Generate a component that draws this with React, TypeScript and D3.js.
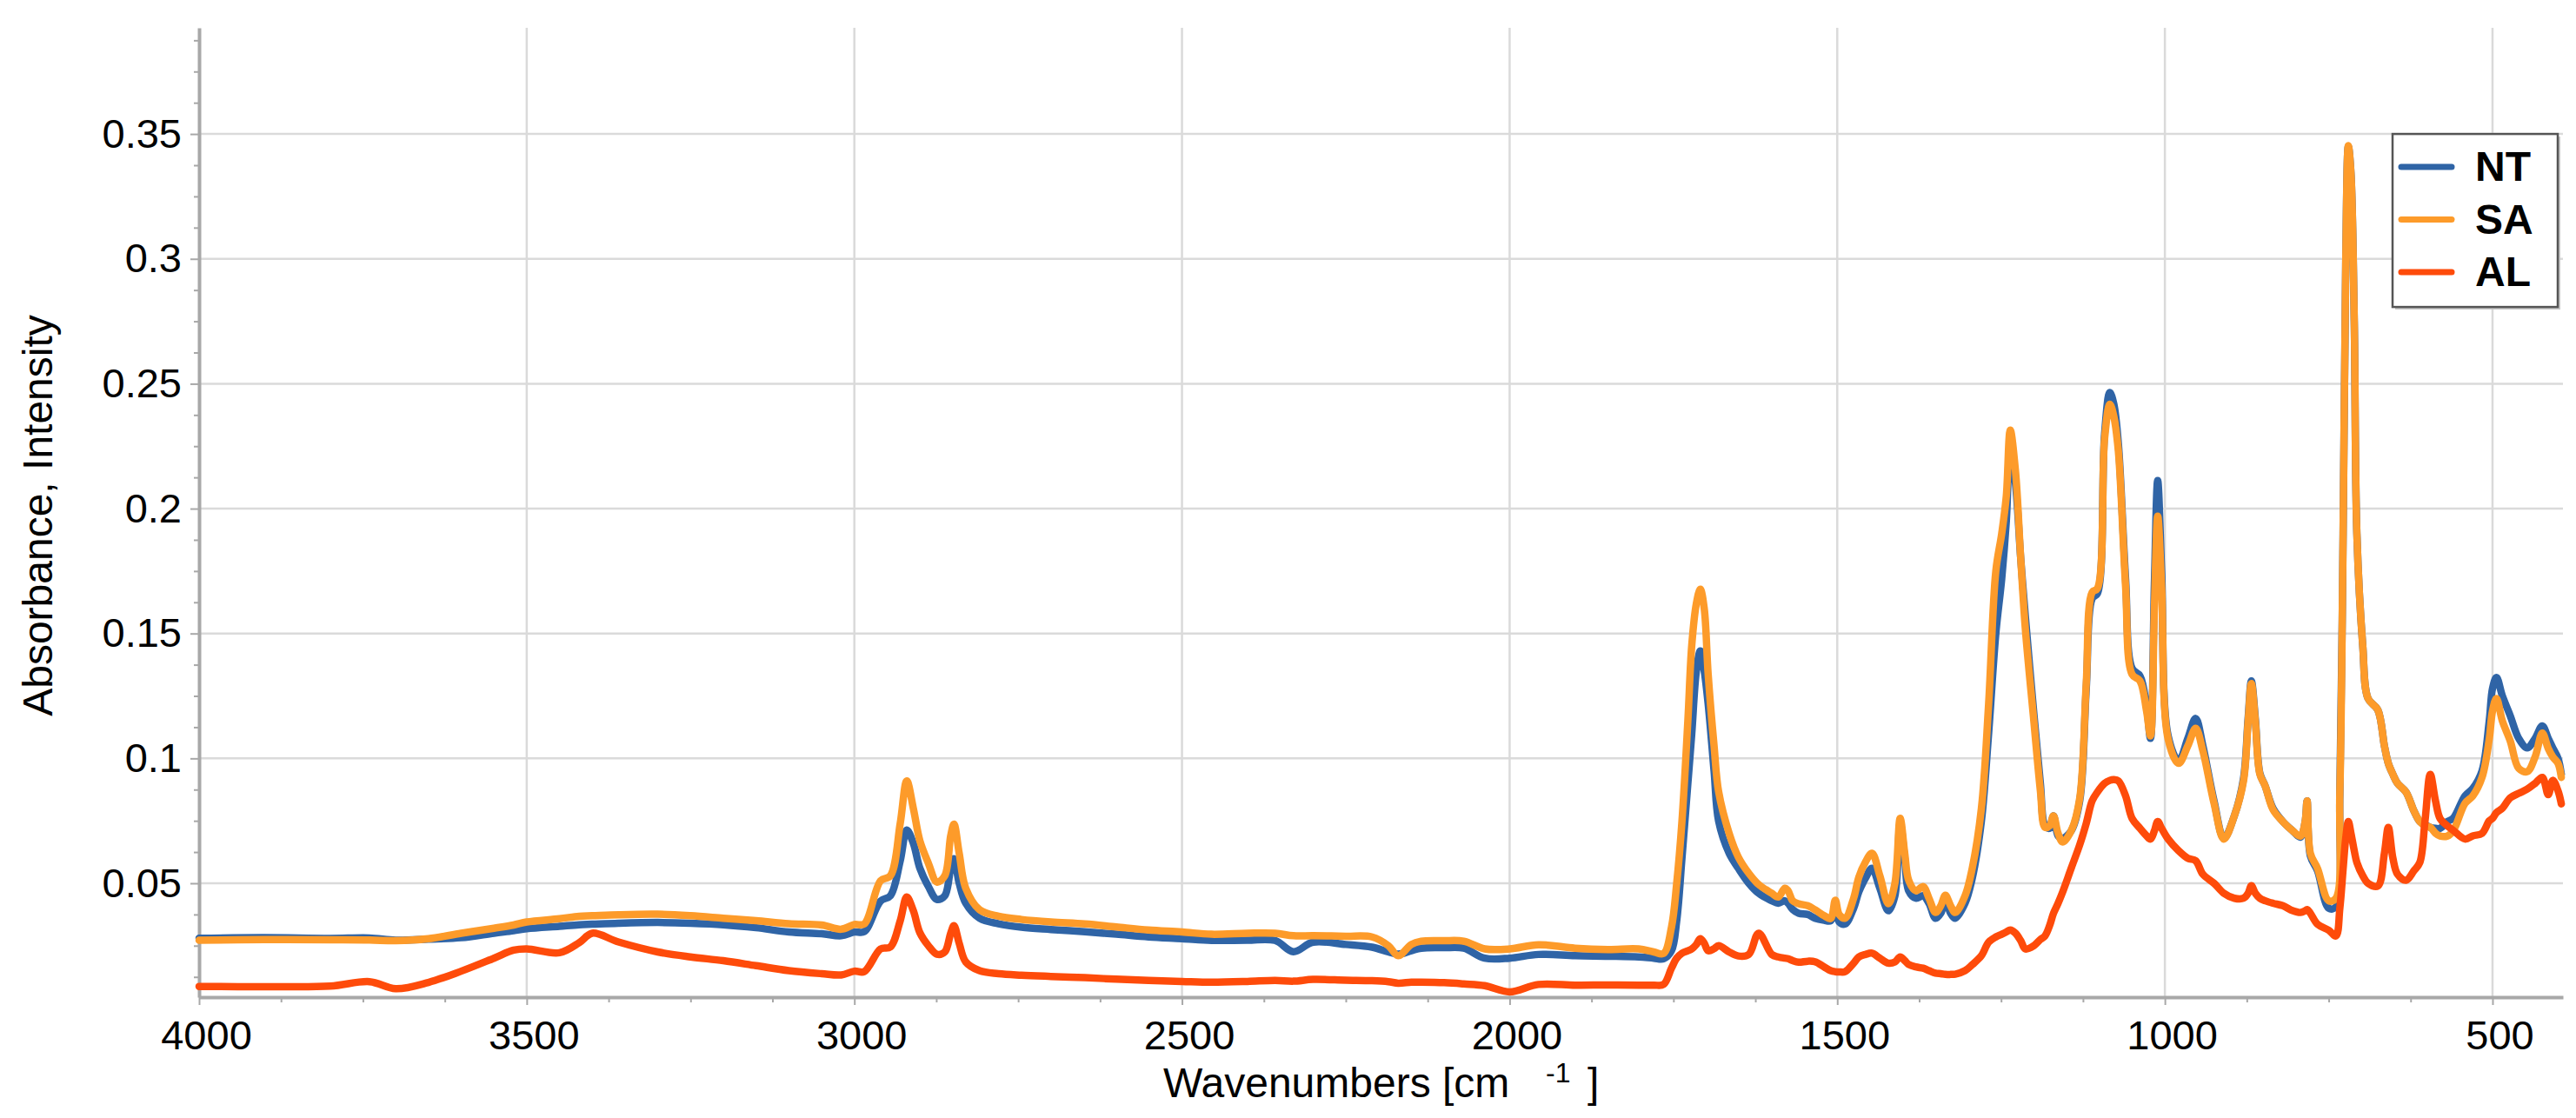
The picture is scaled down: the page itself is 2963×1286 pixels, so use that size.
import React, { useRef, useEffect } from 'react';
import * as d3 from 'd3';

const wavenumbers = [
  // 4000 - 3000
  4000, 3900, 3800, 3740, 3700, 3650, 3600, 3550, 3520, 3500, 3450, 3420, 3400, 3360, 3300, 3250, 3200, 3150, 3100, 3050, 3020, 3000,
  // 2985 - 2000
  2985, 2960, 2945, 2930, 2920, 2910, 2900, 2887, 2874, 2862, 2853, 2848, 2840, 2830, 2809, 2780, 2745, 2700, 2648, 2600, 2551, 2500,
  2455, 2400, 2358, 2330, 2300, 2250, 2210, 2185, 2170, 2150, 2135, 2100, 2070, 2038, 2000,
  // 1956 - 1213
  1956, 1900, 1850, 1803, 1780, 1765, 1753, 1745, 1737, 1728, 1722, 1715, 1709, 1703, 1697, 1688, 1681, 1665, 1651, 1635,
  1620, 1600, 1590, 1580, 1575, 1568, 1559, 1545, 1534, 1520, 1510, 1503, 1497, 1488, 1475, 1467, 1457, 1447, 1435, 1422,
  1412, 1404, 1397, 1391, 1380, 1369, 1360, 1350, 1342, 1335, 1327, 1320, 1305, 1294, 1280, 1269, 1258, 1249, 1242, 1236,
  1228, 1220, 1213,
  // 1200 - 395
  1200, 1190, 1183, 1176, 1170, 1163, 1156, 1143, 1130, 1120, 1111, 1103, 1092, 1084, 1078, 1071, 1060, 1050, 1038, 1028,
  1022, 1016, 1011, 1005, 995, 979, 965, 953, 942, 925, 910, 894, 880, 873, 868, 862, 855, 847, 835, 820,
  805, 793, 786, 783, 778, 767, 750, 739, 733, 728, 724, 720, 716, 711, 707, 698, 690, 675, 665, 659,
  652, 645, 632, 620, 611, 603, 595, 587, 580, 569, 560, 542, 530, 516, 505, 500, 494, 485, 473, 460,
  447, 435, 424, 415, 408, 400, 395,
];

const ntValues = [
  0.0280, 0.0282, 0.0279, 0.0281, 0.0272, 0.0276, 0.0282, 0.0300, 0.0310, 0.0318, 0.0328, 0.0334, 0.0336, 0.0340, 0.0343, 0.0340, 0.0334, 0.0322, 0.0305, 0.0298, 0.0290, 0.0305,
  0.0306, 0.0429, 0.0450, 0.0590, 0.0713, 0.0660, 0.0560, 0.0487, 0.0435, 0.0450, 0.0560, 0.0598, 0.0500, 0.0420, 0.0360, 0.0338, 0.0324, 0.0315, 0.0306, 0.0296, 0.0285, 0.0278,
  0.0271, 0.0272, 0.0271, 0.0226, 0.0264, 0.0255, 0.0244, 0.0225, 0.0216, 0.0230, 0.0240, 0.0242, 0.0240, 0.0200, 0.0200,
  0.0215, 0.0210, 0.0208, 0.0205, 0.0200, 0.0198, 0.0230, 0.0350, 0.0600, 0.0900, 0.1100, 0.1350, 0.1430, 0.1350, 0.1218, 0.0950, 0.0748, 0.0620, 0.0560, 0.0500,
  0.0460, 0.0430, 0.0420, 0.0430, 0.0420, 0.0395, 0.0380, 0.0375, 0.0360, 0.0352, 0.0350, 0.0400, 0.0345, 0.0337, 0.0400, 0.0466, 0.0520, 0.0560, 0.0480, 0.0390,
  0.0450, 0.0740, 0.0600, 0.0470, 0.0440, 0.0450, 0.0420, 0.0360, 0.0380, 0.0430, 0.0380, 0.0360, 0.0420, 0.0520, 0.0750, 0.1100, 0.1500, 0.1720, 0.1950, 0.2240,
  0.2100, 0.1800, 0.1570,
  0.1180, 0.0900, 0.0730, 0.0720, 0.0770, 0.0690, 0.0680, 0.0710, 0.0830, 0.1280, 0.1640, 0.1660, 0.2300, 0.2465, 0.2420, 0.2260, 0.1720, 0.1360, 0.1330, 0.1210,
  0.1080, 0.1700, 0.2112, 0.1750, 0.1090, 0.0990, 0.1080, 0.1160, 0.1050, 0.0830, 0.0680, 0.0770, 0.0920, 0.1160, 0.1310, 0.1160, 0.0940, 0.0890, 0.0800, 0.0747,
  0.0710, 0.0685, 0.0745, 0.0830, 0.0610, 0.0550, 0.0400, 0.0405, 0.0860, 0.1900, 0.2980, 0.3450, 0.3340, 0.2750, 0.1900, 0.1450, 0.1240, 0.1194, 0.1050, 0.0980,
  0.0936, 0.0900, 0.0865, 0.0790, 0.0747, 0.0735, 0.0724, 0.0720, 0.0720, 0.0747, 0.0760, 0.0850, 0.0880, 0.0950, 0.1150, 0.1280, 0.1324, 0.1250, 0.1171, 0.1080,
  0.1042, 0.1080, 0.1130, 0.1080, 0.1042, 0.1000, 0.0936,
];

const saValues = [
  0.0272, 0.0275, 0.0274, 0.0273, 0.0270, 0.0278, 0.0300, 0.0320, 0.0333, 0.0345, 0.0358, 0.0368, 0.0370, 0.0374, 0.0376, 0.0370, 0.0360, 0.0350, 0.0338, 0.0333, 0.0316, 0.0335,
  0.0337, 0.0510, 0.0530, 0.0740, 0.0910, 0.0800, 0.0670, 0.0580, 0.0505, 0.0530, 0.0690, 0.0737, 0.0620, 0.0480, 0.0394, 0.0368, 0.0355, 0.0345, 0.0337, 0.0325, 0.0313, 0.0305,
  0.0296, 0.0300, 0.0300, 0.0290, 0.0290, 0.0288, 0.0285, 0.0250, 0.0210, 0.0255, 0.0268, 0.0270, 0.0268, 0.0237, 0.0237,
  0.0254, 0.0240, 0.0235, 0.0237, 0.0225, 0.0219, 0.0324, 0.0500, 0.0748, 0.1150, 0.1454, 0.1620, 0.1677, 0.1600, 0.1336, 0.1050, 0.0866, 0.0700, 0.0605, 0.0540,
  0.0495, 0.0460, 0.0445, 0.0480, 0.0470, 0.0430, 0.0418, 0.0410, 0.0394, 0.0370, 0.0359, 0.0432, 0.0375, 0.0360, 0.0440, 0.0525, 0.0585, 0.0620, 0.0530, 0.0418,
  0.0500, 0.0760, 0.0620, 0.0512, 0.0470, 0.0487, 0.0440, 0.0383, 0.0410, 0.0452, 0.0410, 0.0383, 0.0450, 0.0560, 0.0800, 0.1218, 0.1750, 0.1900, 0.2050, 0.2314,
  0.2150, 0.1800, 0.1520,
  0.1150, 0.0870, 0.0724, 0.0730, 0.0770, 0.0700, 0.0665, 0.0710, 0.0840, 0.1300, 0.1665, 0.1680, 0.2280, 0.2418, 0.2370, 0.2230, 0.1690, 0.1336, 0.1310, 0.1190,
  0.1090, 0.1600, 0.1970, 0.1690, 0.1077, 0.0980, 0.1050, 0.1120, 0.1030, 0.0820, 0.0677, 0.0770, 0.0910, 0.1147, 0.1300, 0.1150, 0.0936, 0.0890, 0.0795, 0.0747,
  0.0710, 0.0689, 0.0747, 0.0830, 0.0620, 0.0559, 0.0430, 0.0440, 0.0865, 0.1900, 0.2980, 0.3453, 0.3340, 0.2750, 0.1900, 0.1450, 0.1240, 0.1194, 0.1050, 0.0980,
  0.0936, 0.0900, 0.0865, 0.0790, 0.0747, 0.0730, 0.0724, 0.0700, 0.0689, 0.0689, 0.0710, 0.0820, 0.0850, 0.0924, 0.1077, 0.1190, 0.1240, 0.1150, 0.1070, 0.0960,
  0.0947, 0.1006, 0.1101, 0.1040, 0.1006, 0.0980, 0.0924,
];

const alValues = [
  0.0087, 0.0086, 0.0088, 0.0106, 0.0078, 0.0103, 0.0148, 0.0200, 0.0232, 0.0237, 0.0222, 0.0262, 0.0300, 0.0265, 0.0225, 0.0205, 0.0190, 0.0170, 0.0150, 0.0138, 0.0133, 0.0148,
  0.0146, 0.0237, 0.0245, 0.0350, 0.0445, 0.0390, 0.0302, 0.0250, 0.0216, 0.0225, 0.0300, 0.0330, 0.0260, 0.0185, 0.0150, 0.0138, 0.0132, 0.0127, 0.0122, 0.0116, 0.0111, 0.0107,
  0.0104, 0.0107, 0.0111, 0.0108, 0.0115, 0.0112, 0.0110, 0.0106, 0.0100, 0.0104, 0.0104, 0.0102, 0.0097, 0.0090, 0.0065,
  0.0095, 0.0092, 0.0093, 0.0092, 0.0092, 0.0095, 0.0160, 0.0200, 0.0220, 0.0230, 0.0237, 0.0255, 0.0278, 0.0260, 0.0230, 0.0238, 0.0250, 0.0225, 0.0209, 0.0215,
  0.0300, 0.0215, 0.0205, 0.0200, 0.0198, 0.0190, 0.0184, 0.0188, 0.0186, 0.0165, 0.0150, 0.0146, 0.0145, 0.0146, 0.0180, 0.0205, 0.0215, 0.0220, 0.0200, 0.0180,
  0.0185, 0.0205, 0.0190, 0.0175, 0.0165, 0.0160, 0.0150, 0.0140, 0.0138, 0.0135, 0.0135, 0.0136, 0.0150, 0.0174, 0.0210, 0.0264, 0.0285, 0.0296, 0.0305, 0.0313,
  0.0300, 0.0270, 0.0237,
  0.0250, 0.0275, 0.0289, 0.0330, 0.0380, 0.0420, 0.0465, 0.0560, 0.0654, 0.0740, 0.0830, 0.0865, 0.0900, 0.0912, 0.0915, 0.0910, 0.0850, 0.0759, 0.0720, 0.0690,
  0.0677, 0.0710, 0.0747, 0.0720, 0.0677, 0.0630, 0.0600, 0.0590, 0.0536, 0.0500, 0.0460, 0.0440, 0.0440, 0.0460, 0.0490, 0.0460, 0.0440, 0.0430, 0.0420, 0.0410,
  0.0390, 0.0383, 0.0390, 0.0395, 0.0380, 0.0336, 0.0312, 0.0289, 0.0400, 0.0558, 0.0680, 0.0747, 0.0700, 0.0630, 0.0583, 0.0530, 0.0500, 0.0489, 0.0620, 0.0724,
  0.0600, 0.0536, 0.0512, 0.0550, 0.0583, 0.0750, 0.0936, 0.0830, 0.0759, 0.0730, 0.0712, 0.0677, 0.0690, 0.0700, 0.0750, 0.0760, 0.0783, 0.0800, 0.0842, 0.0860,
  0.0877, 0.0900, 0.0924, 0.0855, 0.0912, 0.0870, 0.0818,
];

const seriesNames = ['NT', 'SA', 'AL'];
const seriesColors = ['#2f64a6', '#fd9b2a', '#fe4b0a'];

const xTicks = [4000, 3500, 3000, 2500, 2000, 1500, 1000, 500];
const yTicks = [0.05, 0.1, 0.15, 0.2, 0.25, 0.3, 0.35];
const yTickLabels = ['0.05', '0.1', '0.15', '0.2', '0.25', '0.3', '0.35'];

const WIDTH = 2963;
const HEIGHT = 1286;
const FONT = '"Liberation Sans", Arial, Helvetica, sans-serif';

const App: React.FC = () => {
  const ref = useRef<SVGSVGElement | null>(null);

  useEffect(() => {
    if (!ref.current) return;
    const svg = d3.select(ref.current);
    svg.selectAll('*').remove();

    const margin = { top: 32, right: 15, bottom: 139, left: 229 };
    const x = d3.scaleLinear().domain([4000, 392.5]).range([margin.left, WIDTH - margin.right]);
    const y = d3.scaleLinear().domain([0.0044, 0.3925]).range([HEIGHT - margin.bottom, margin.top]);
    const [x0, x1] = x.range();
    const [yBottom, yTop] = y.range();

    svg.append('rect').attr('width', WIDTH).attr('height', HEIGHT).attr('fill', '#fff');

    // grid
    const grid = svg.append('g').attr('stroke', '#dadada').attr('stroke-width', 2.5);
    grid.selectAll('line.h').data(yTicks).join('line')
      .attr('x1', x0).attr('x2', x1)
      .attr('y1', d => y(d)).attr('y2', d => y(d));
    grid.selectAll('line.v').data(xTicks.slice(1)).join('line')
      .attr('y1', yTop).attr('y2', yBottom)
      .attr('x1', d => x(d)).attr('x2', d => x(d));

    const axisColor = '#a8a8a8';

    // minor ticks
    const xMinor = d3.range(4000, 392, -125).filter(v => v % 500 !== 0);
    const yMinor = d3.range(0.0125, 0.3925, 0.0125).filter(v => Math.abs(v / 0.05 - Math.round(v / 0.05)) > 1e-6);

    const xMinorAxis = svg.append('g').attr('transform', `translate(0,${yBottom})`)
      .call(d3.axisBottom(x).tickValues(xMinor).tickSize(6).tickSizeOuter(0).tickFormat(() => ''));
    const yMinorAxis = svg.append('g').attr('transform', `translate(${x0},0)`)
      .call(d3.axisLeft(y).tickValues(yMinor).tickSize(6).tickSizeOuter(0).tickFormat(() => ''));
    [xMinorAxis, yMinorAxis].forEach(a => {
      a.select('.domain').remove();
      a.selectAll('line').attr('stroke', axisColor).attr('stroke-width', 2);
    });

    // major axes
    const xAxis = svg.append('g').attr('transform', `translate(0,${yBottom})`)
      .call(d3.axisBottom(x).tickValues(xTicks).tickSize(9).tickSizeOuter(0).tickPadding(18).tickFormat(d => String(d)));
    const yAxis = svg.append('g').attr('transform', `translate(${x0},0)`)
      .call(d3.axisLeft(y).tickValues(yTicks).tickSize(10).tickSizeOuter(0).tickPadding(10)
        .tickFormat((_d, i) => yTickLabels[i]));

    [xAxis, yAxis].forEach(a => {
      a.select('.domain').attr('stroke', axisColor).attr('stroke-width', 4);
      a.selectAll('line').attr('stroke', axisColor).attr('stroke-width', 2);
      a.selectAll('text').attr('font-family', FONT).attr('font-size', 47).attr('fill', '#000');
    });
    xAxis.selectAll('text').attr('dx', 8);

    // spectra
    const allSeries = [ntValues, saValues, alValues];
    const line = d3.line<number>()
      .x((_d, i) => x(wavenumbers[i]))
      .y(d => y(d))
      .curve(d3.curveCatmullRom.alpha(0.5));

    allSeries.forEach((values, k) => {
      svg.append('path')
        .datum(values)
        .attr('fill', 'none')
        .attr('stroke', seriesColors[k])
        .attr('stroke-width', 8.5)
        .attr('stroke-linejoin', 'round')
        .attr('stroke-linecap', 'round')
        .attr('d', line);
    });

    // legend
    const legend = svg.append('g').attr('transform', `translate(2752,${y(0.35)})`);
    legend.append('rect').attr('x', 3).attr('y', 3).attr('width', 190).attr('height', 199).attr('fill', '#c8c8c8');
    legend.append('rect').attr('width', 190).attr('height', 199)
      .attr('fill', '#fff').attr('stroke', '#555').attr('stroke-width', 2.5);
    seriesNames.forEach((name, k) => {
      const row = legend.append('g').attr('transform', `translate(0,${38 + k * 60.5})`);
      row.append('line').attr('x1', 10).attr('x2', 68).attr('y1', 0).attr('y2', 0)
        .attr('stroke', seriesColors[k]).attr('stroke-width', 7).attr('stroke-linecap', 'round');
      row.append('text').attr('x', 95).attr('y', 16)
        .attr('font-family', FONT).attr('font-weight', 'bold').attr('font-size', 48)
        .attr('fill', '#000').text(name);
    });

    // axis titles
    svg.append('text')
      .attr('transform', `translate(60,593) rotate(-90)`)
      .attr('text-anchor', 'middle')
      .attr('font-family', FONT).attr('font-size', 48).attr('fill', '#000')
      .text('Absorbance, Intensity');

    const xTitle = svg.append('text')
      .attr('font-family', FONT).attr('font-size', 48).attr('fill', '#000');
    xTitle.append('tspan').attr('x', 1338).attr('y', 1262).text('Wavenumbers [cm');
    xTitle.append('tspan').attr('x', 1778).attr('y', 1245).attr('font-size', 32).text('-1');
    xTitle.append('tspan').attr('x', 1826).attr('y', 1262).text(']');
  }, []);

  return (
    <svg
      ref={ref}
      width={WIDTH}
      height={HEIGHT}
      style={{ position: 'absolute', left: 0, top: 0, display: 'block' }}
    />
  );
};

export default App;
